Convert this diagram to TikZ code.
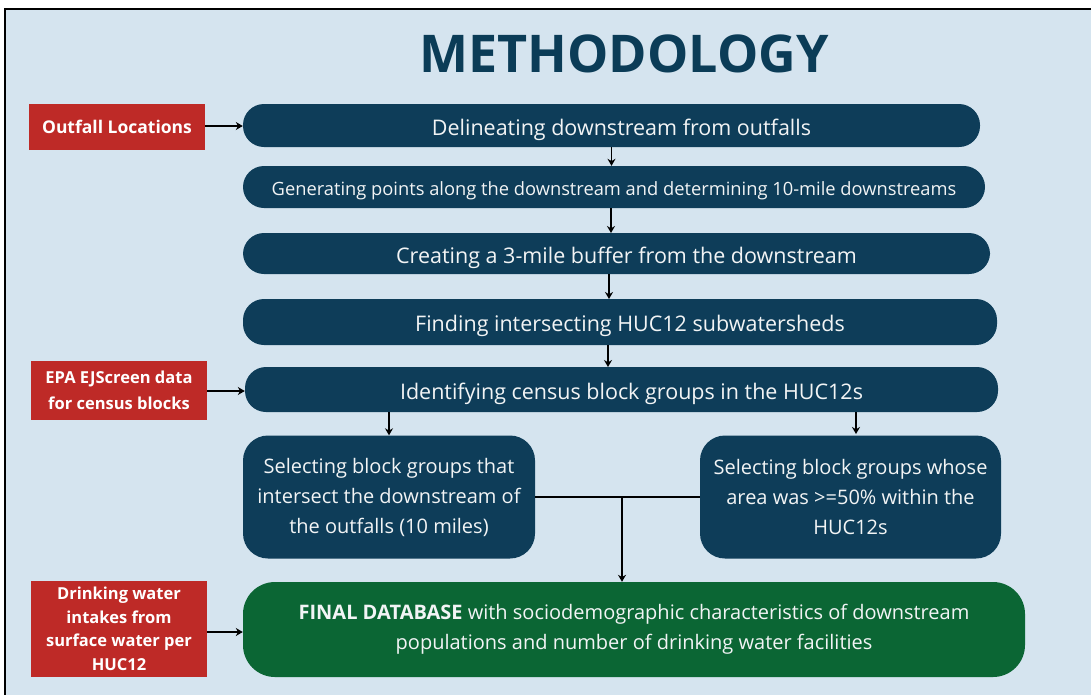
\documentclass[tikz,border=0pt]{standalone}
\usepackage{fontspec}
\setmainfont{Open Sans}
\usetikzlibrary{arrows.meta}
\definecolor{navy}{HTML}{0E3D59}
\definecolor{brick}{HTML}{BE2A27}
\definecolor{forest}{HTML}{0B6634}
\definecolor{paleblue}{HTML}{D5E4EF}
\definecolor{titleblue}{HTML}{0B3C57}
\definecolor{offwhite}{HTML}{F2F4F5}
\newcommand{\lowerline}{\rule{0pt}{1.15em}}
\newcommand{\nudge}{\hspace*{20pt}}

\begin{document}
\begin{tikzpicture}[x=1pt,y=-1pt,
    stage/.style={fill=navy,text=offwhite,inner sep=0pt,align=center,rounded corners=21pt,font=\fontsize{21.5}{30}\selectfont,execute at begin node=\lowerline},
    source/.style={fill=brick,text=white,inner sep=0pt,align=center,minimum width=176pt,font=\bfseries\fontsize{16.5}{24}\selectfont},
    flow/.style={line width=1.6pt,-{Stealth[length=7pt,width=8pt]}}]
    \useasboundingbox (0,0) rectangle (1091,694);
    \fill[white] (0,0) rectangle (1091,694);
    \draw[fill=paleblue,line width=2pt] (5,9) rectangle (1100,705);
    \node[text=titleblue] (title) at (624,53.5) {\fontsize{52}{52}\selectfont\bfseries METHODOLOGY};
    \node[stage,minimum width=737pt,minimum height=43pt] (b1) at (611.5,125.5) {\nudge Delineating downstream from outfalls};
    \node[stage,minimum width=742pt,minimum height=42pt,font=\fontsize{18.3}{24}\selectfont] (b2) at (614,187) {Generating points along the downstream and determining 10-mile downstreams};
    \node[stage,minimum width=747pt,minimum height=41pt] (b3) at (616.5,253.5) {\nudge Creating a 3-mile buffer from the downstream};
    \node[stage,minimum width=754pt,minimum height=46pt] (b4) at (620,322) {\nudge Finding intersecting HUC12 subwatersheds};
    \node[stage,minimum width=753pt,minimum height=45pt] (b5) at (621.5,389.5) {\nudge Identifying census block groups in the HUC12s};
    \node[stage,minimum width=292pt,minimum height=123pt,rounded corners=25pt,font=\fontsize{20}{30}\selectfont] (b6) at (389,497) {Selecting block groups that\\intersect the downstream of\\the outfalls (10 miles)};
    \node[stage,minimum width=301pt,minimum height=123pt,rounded corners=25pt,font=\fontsize{20}{30}\selectfont] (b7) at (850.5,497) {Selecting block groups whose\\area was >=50\% within the\\HUC12s};
    \node[stage,fill=forest,minimum width=782pt,minimum height=95pt,rounded corners=32pt,font=\fontsize{20}{30}\selectfont] (b8) at (634,629.5) {\textbf{FINAL DATABASE} with sociodemographic characteristics of downstream\\populations and number of drinking water facilities};
    \node[source,minimum height=46pt,font=\bfseries\fontsize{17.5}{24}\selectfont] (r1) at (117,127) {Outfall Locations};
    \node[source,minimum height=59pt,font=\bfseries\fontsize{16.5}{26}\selectfont] (r2) at (119,390.5) {EPA EJScreen data\\for census blocks};
    \node[source,minimum height=96pt,font=\bfseries\fontsize{16.5}{23.5}\selectfont] (r3) at (119,629) {Drinking water\\intakes from\\surface water per\\HUC12};
    \draw[flow] (r1.east |- 0,126) -- (b1.west |- 0,126);
    \draw[flow] (r2.east |- 0,391) -- (b5.west |- 0,391);
    \draw[flow] (r3.east |- 0,632) -- (b8.west |- 0,632);
    \draw[flow] (b1.south) -- (b1.south |- b2.north);
    \draw[flow] (611,208) -- (611,233);
    \draw[flow] (609,274) -- (609,299);
    \draw[flow] (608,345) -- (608,367);
    \draw[flow] (b6.north |- b5.south) -- (b6.north);
    \draw[flow] (856,412) -- (856,434);
    \draw[line width=1.6pt] (b6.east) -- (b7.west);
    \coordinate (join) at (622,497);
    \draw[flow] (join) -- (join |- b8.north);
\end{tikzpicture}
\end{document}
